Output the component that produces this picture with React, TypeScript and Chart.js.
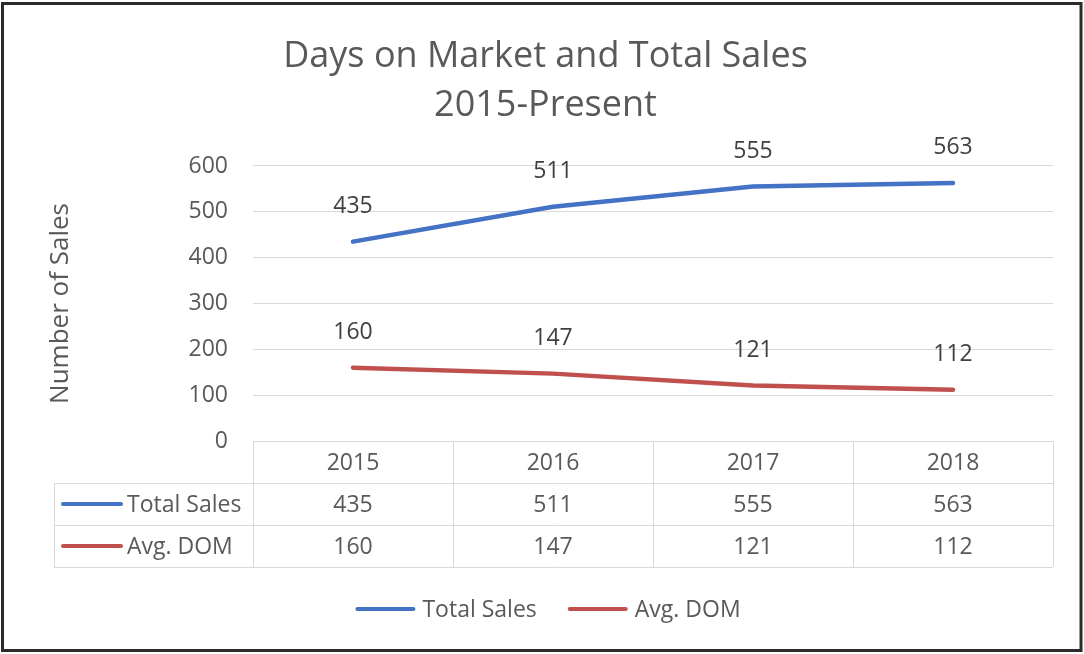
import React, { useEffect, useRef } from 'react';
import { Chart, registerables } from 'chart.js';

Chart.register(...registerables);

const categories = ['2015', '2016', '2017', '2018'];
const totalSales = [435, 511, 555, 563];
const avgDom = [160, 147, 121, 112];
const seriesNames = ['Total Sales', 'Avg. DOM'];
const titleLines = ['Days on Market and Total Sales', '2015-Present'];
const yAxisTitle = 'Number of Sales';

const FONT = '"Open Sans"';
const SMALL = 23;
const BLUE = '#4472C4';
const RED = '#C0504D';
const TEXT = '#595959';
const LABEL = '#404040';
const GRID = '#d9d9d9';

const W = 1084;
const H = 654;

const framePlugin = {
  id: 'frame',
  beforeDraw(chart: any) {
    const ctx = chart.ctx;
    ctx.save();
    ctx.fillStyle = '#ffffff';
    ctx.fillRect(0, 0, chart.width, chart.height);
    ctx.restore();
  },
  afterDraw(chart: any) {
    const ctx = chart.ctx;
    ctx.save();
    ctx.strokeStyle = '#2b2b2b';
    ctx.lineWidth = 3;
    ctx.strokeRect(2.5, 3.5, 1078.5, 647);
    ctx.restore();
  },
};

const tablePlugin = {
  id: 'dataTable',
  afterDraw(chart: any) {
    const ctx = chart.ctx;
    const area = chart.chartArea;
    const xs = chart.scales.x;
    const rowH = 42;
    const top = area.bottom;
    const left = 54;
    const right = area.right;
    const n = categories.length;
    const colW = (area.right - area.left) / n;
    ctx.save();
    ctx.strokeStyle = GRID;
    ctx.lineWidth = 1;
    const hline = (y: number, x0: number, x1: number) => {
      ctx.beginPath();
      ctx.moveTo(x0, Math.round(y) + 0.5);
      ctx.lineTo(x1, Math.round(y) + 0.5);
      ctx.stroke();
    };
    const vline = (x: number, y0: number, y1: number) => {
      ctx.beginPath();
      ctx.moveTo(Math.round(x) + 0.5, y0);
      ctx.lineTo(Math.round(x) + 0.5, y1);
      ctx.stroke();
    };
    hline(top + rowH, left, right);
    hline(top + rowH * 2, left, right);
    hline(top + rowH * 3, left, right);
    for (let i = 0; i <= n; i++) vline(area.left + colW * i, top, top + rowH * 3);
    vline(left, top + rowH, top + rowH * 3);

    ctx.font = `${SMALL}px ${FONT}`;
    ctx.fillStyle = TEXT;
    ctx.textAlign = 'center';
    ctx.textBaseline = 'middle';
    const dy = 1.5;
    categories.forEach((c, i) => {
      const x = xs.getPixelForValue(i);
      ctx.fillText(c, x, top + rowH / 2 + dy);
    });
    const rows = [totalSales, avgDom];
    const colors = [BLUE, RED];
    rows.forEach((vals, r) => {
      const cy = top + rowH * (r + 1) + rowH / 2;
      vals.forEach((v, i) => {
        ctx.fillStyle = TEXT;
        ctx.textAlign = 'center';
        ctx.fillText(String(v), xs.getPixelForValue(i), cy + dy);
      });
      ctx.strokeStyle = colors[r];
      ctx.lineWidth = 4;
      ctx.lineCap = 'round';
      ctx.beginPath();
      ctx.moveTo(63, cy);
      ctx.lineTo(121, cy);
      ctx.stroke();
      ctx.fillStyle = TEXT;
      ctx.textAlign = 'left';
      ctx.fillText(seriesNames[r], 127, cy + dy);
    });
    ctx.restore();
  },
};

const labelsPlugin = {
  id: 'pointLabels',
  afterDatasetsDraw(chart: any) {
    const ctx = chart.ctx;
    ctx.save();
    ctx.font = `${SMALL}px ${FONT}`;
    ctx.fillStyle = LABEL;
    ctx.textAlign = 'center';
    ctx.textBaseline = 'middle';
    chart.data.datasets.forEach((ds: any, di: number) => {
      const meta = chart.getDatasetMeta(di);
      meta.data.forEach((pt: any, i: number) => {
        ctx.fillText(String(ds.data[i]), pt.x, pt.y - 35.5);
      });
    });
    ctx.restore();
  },
};

const legendPlugin = {
  id: 'customLegend',
  afterDraw(chart: any) {
    const ctx = chart.ctx;
    ctx.save();
    ctx.font = `${SMALL}px ${FONT}`;
    ctx.textBaseline = 'middle';
    ctx.textAlign = 'left';
    const keyW = 60;
    const gap = 7;
    const between = 31;
    const widths = seriesNames.map((s) => ctx.measureText(s).width);
    const total = widths.reduce((a, w) => a + keyW + gap + w, 0) + between;
    let x = 548 - total / 2;
    const y = 609;
    const colors = [BLUE, RED];
    seriesNames.forEach((s, i) => {
      ctx.strokeStyle = colors[i];
      ctx.lineWidth = 4;
      ctx.lineCap = 'round';
      ctx.beginPath();
      ctx.moveTo(x + 2, y);
      ctx.lineTo(x + keyW - 2, y);
      ctx.stroke();
      x += keyW + gap;
      ctx.fillStyle = TEXT;
      ctx.fillText(s, x, y + 1.5);
      x += widths[i] + between;
    });
    ctx.restore();
  },
};

export default function App() {
  const ref = useRef<HTMLCanvasElement | null>(null);
  useEffect(() => {
    if (!ref.current) return;
    const chart = new Chart(ref.current, {
      type: 'line',
      data: {
        labels: categories,
        datasets: [
          {
            label: seriesNames[0],
            data: totalSales,
            borderColor: BLUE,
            backgroundColor: BLUE,
            borderWidth: 4.5,
            pointRadius: 0,
            borderCapStyle: 'round',
            tension: 0,
          },
          {
            label: seriesNames[1],
            data: avgDom,
            borderColor: RED,
            backgroundColor: RED,
            borderWidth: 4.5,
            pointRadius: 0,
            borderCapStyle: 'round',
            tension: 0,
          },
        ],
      },
      options: {
        responsive: false,
        animation: false,
        layout: { padding: { top: 0, left: 38, right: 31, bottom: 87 } },
        plugins: {
          legend: { display: false },
          tooltip: { enabled: false },
          title: {
            display: true,
            text: titleLines,
            color: TEXT,
            font: { family: FONT, size: 36, weight: 'normal', lineHeight: 1.361 },
            padding: { top: 32, bottom: 36 },
          },
        },
        scales: {
          x: {
            offset: true,
            ticks: { display: false },
            grid: { display: false },
            border: { display: false },
            afterFit(scale: any) {
              scale.height = 126;
            },
          },
          y: {
            min: 0,
            max: 600,
            ticks: {
              stepSize: 100,
              color: TEXT,
              padding: 25,
              font: { family: FONT, size: SMALL },
            },
            grid: { color: GRID, drawTicks: false, lineWidth: 1 },
            border: { display: false },
            title: {
              display: true,
              text: yAxisTitle,
              color: TEXT,
              font: { family: FONT, size: 26 },
              padding: { top: 7, bottom: 0 },
            },
            afterFit(scale: any) {
              scale.width = 215;
            },
          },
        },
      },
      plugins: [framePlugin, labelsPlugin, tablePlugin, legendPlugin],
    });
    return () => chart.destroy();
  }, []);
  return (
    <div style={{ position: 'fixed', left: 0, top: 0, width: W, height: H }}>
      <canvas ref={ref} width={W} height={H} style={{ width: W, height: H }} />
    </div>
  );
}
